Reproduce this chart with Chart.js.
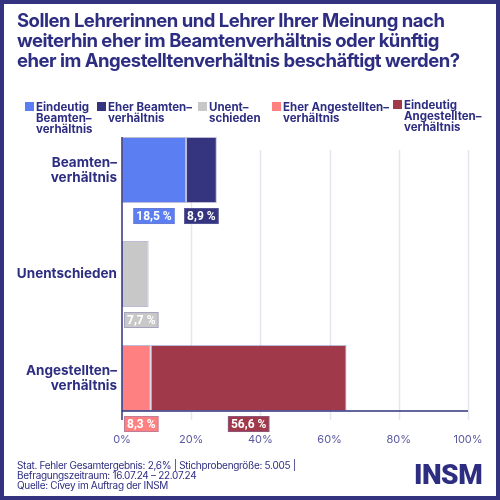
<!DOCTYPE html>
<html>
<head>
<meta charset="utf-8">
<script src="https://cdn.jsdelivr.net/npm/chart.js@4"></script>
<style>
  html, body { margin: 0; padding: 0; background: #fff; }
  #wrap { position: relative; width: 500px; height: 500px; overflow: hidden; font-family: Inter, Roboto, sans-serif; color: #2d2d82; }
  #frame { position: absolute; left: 0; top: 0; width: 500px; height: 500px; box-sizing: border-box; border: 4px solid #33337f; pointer-events: none; }
  canvas { position: absolute; left: 0; top: 0; }
  #title { position: absolute; left: 17px; top: 10px; font-size: 18.5px; line-height: 20px; font-weight: 700; letter-spacing: -0.5px; white-space: nowrap; }
  #legend .item { position: absolute; top: 102px; }
  #legend .sw { position: absolute; left: 0; top: 0; width: 9px; height: 9px; }
  #legend .txt { position: absolute; left: 11px; top: 0; font-size: 11.5px; line-height: 10.8px; font-weight: 700; letter-spacing: 0px; white-space: pre; }
  #footer { position: absolute; left: 17px; top: 460px; font-size: 10px; line-height: 10px; letter-spacing: -0.3px; white-space: nowrap; }
  #logo { position: absolute; left: 414px; top: 458px; font-family: Roboto, sans-serif; font-size: 28px; font-weight: 900; letter-spacing: -0.5px; }
</style>
</head>
<body>
<div id="wrap">
  <canvas id="chart" width="500" height="500"></canvas>
  <div id="title">Sollen Lehrerinnen und Lehrer Ihrer Meinung nach<br>weiterhin eher im Beamtenverhältnis oder künftig<br>eher im Angestelltenverhältnis beschäftigt werden?</div>
  <div id="legend"></div>
  <div id="footer">Stat. Fehler Gesamtergebnis: 2,6% | Stichprobengröße: 5.005 |<br>Befragungszeitraum: 16.07.24 – 22.07.24<br>Quelle: Civey im Auftrag der INSM</div>
  <div id="logo">INSM</div>
  <div id="frame"></div>
</div>
<script>
const categories = [['Beamten–', 'verhältnis'], 'Unentschieden', ['Angestellten–', 'verhältnis']];
const seriesNames = ['Eindeutig\nBeamten–\nverhältnis', 'Eher Beamten–\nverhältnis', 'Unent–\nschieden', 'Eher Angestellten–\nverhältnis', 'Eindeutig\nAngestellten–\nverhältnis'];
const eindeutigBeamten = [18.5, null, null];
const eherBeamten = [8.9, null, null];
const unentschieden = [null, 7.7, null];
const eherAngestellten = [null, null, 8.3];
const eindeutigAngestellten = [null, null, 56.6];
const xTicks = [0, 20, 40, 60, 80, 100];

const colors = ['#5b7ff2', '#35357f', '#c8c8c8', '#ff8080', '#a03a4b'];
const legendX = [25, 97, 198, 272, 393];
const navy = '#2d2d82';

// legend in html, built from the series names
const legend = document.getElementById('legend');
seriesNames.forEach((name, i) => {
  const item = document.createElement('div');
  item.className = 'item';
  item.style.left = legendX[i] + 'px';
  if (i === 4) item.style.top = '100px';
  item.innerHTML = '<div class="sw" style="background:' + colors[i] + '"></div><div class="txt"></div>';
  item.querySelector('.txt').textContent = name;
  legend.appendChild(item);
});

const valueLabels = {
  id: 'valueLabels',
  afterDatasetsDraw(chart) {
    const c = chart.ctx;
    const left = chart.chartArea.left;
    c.save();
    c.font = '700 12px Roboto, sans-serif';
    c.textBaseline = 'middle';
    c.textAlign = 'center';
    chart.data.datasets.forEach((ds, di) => {
      chart.getDatasetMeta(di).data.forEach((bar, i) => {
        const v = ds.data[i];
        if (v == null) return;
        const txt = v.toFixed(1).replace('.', ',') + ' %';
        const w = c.measureText(txt).width + 6;
        const cx = (bar.x + bar.base) / 2;
        let bx = Math.max(cx - w / 2, left + 2);
        const by = bar.y + bar.height / 2 + 5;
        c.fillStyle = ds.backgroundColor;
        c.fillRect(bx, by, w, 16);
        c.strokeStyle = 'rgba(120,120,180,0.45)';
        c.lineWidth = 1;
        c.strokeRect(bx + 0.5, by + 0.5, w - 1, 15);
        c.fillStyle = '#fff';
        c.fillText(txt, bx + w / 2, by + 8.5);
      });
    });
    c.restore();
  }
};

const axesLines = {
  id: 'axesLines',
  beforeDatasetsDraw(chart) {
    const c = chart.ctx;
    const area = chart.chartArea;
    const xs = chart.scales.x;
    c.save();
    c.lineWidth = 1.5;
    c.strokeStyle = '#e6e6f2';
    xTicks.forEach(t => {
      if (t === 0) return;
      const x = Math.round(xs.getPixelForValue(t)) + 0.5;
      c.beginPath();
      c.moveTo(x, area.top + 32);
      c.lineTo(x, area.bottom - 10);
      c.stroke();
    });
    c.restore();
  },
  afterDatasetsDraw(chart) {
    const c = chart.ctx;
    const area = chart.chartArea;
    const xs = chart.scales.x;
    const first = chart.getDatasetMeta(0).data[0];
    const last = chart.getDatasetMeta(4).data[2];
    const barTop = first.y - first.height / 2;
    const barBottom = last.y + last.height / 2;
    c.save();
    c.strokeStyle = '#33337f';
    c.lineWidth = 1.5;
    c.beginPath();
    c.moveTo(xs.getPixelForValue(0), barTop);
    c.lineTo(xs.getPixelForValue(0), area.bottom - 10);
    c.moveTo(xs.getPixelForValue(0), barBottom);
    c.lineTo(xs.getPixelForValue(100), barBottom);
    c.stroke();
    c.restore();
  }
};

const data = [eindeutigBeamten, eherBeamten, unentschieden, eherAngestellten, eindeutigAngestellten];

new Chart(document.getElementById('chart'), {
  type: 'bar',
  data: {
    labels: categories,
    datasets: data.map((d, i) => ({
      label: seriesNames[i],
      data: d,
      backgroundColor: colors[i],
      borderColor: 'rgba(60,60,140,0.35)',
      borderWidth: 1,
      borderSkipped: false,
      categoryPercentage: 1,
      barPercentage: 0.635
    }))
  },
  options: {
    indexAxis: 'y',
    responsive: false,
    animation: false,
    layout: { padding: { left: 0, right: 32, top: 118, bottom: 0 } },
    plugins: { legend: { display: false }, tooltip: { enabled: false } },
    scales: {
      x: {
        stacked: true,
        min: 0,
        max: 100,
        afterBuildTicks: s => { s.ticks = xTicks.map(v => ({ value: v })); },
        afterFit: s => { s.height = 70; },
        grid: { display: false, drawTicks: false },
        border: { display: false },
        ticks: { padding: 3, color: '#5a5aa0', font: { family: 'Inter, Roboto, sans-serif', size: 11 }, callback: v => v + '%', maxRotation: 0 }
      },
      y: {
        stacked: true,
        afterFit: s => { s.width = 122; },
        grid: { display: false, drawTicks: false },
        border: { display: false },
        ticks: { padding: 5, color: navy, font: { family: 'Inter, Roboto, sans-serif', size: 13.5, weight: '700', lineHeight: 1.12 } }
      }
    }
  },
  plugins: [axesLines, valueLabels]
});
</script>
</body>
</html>
